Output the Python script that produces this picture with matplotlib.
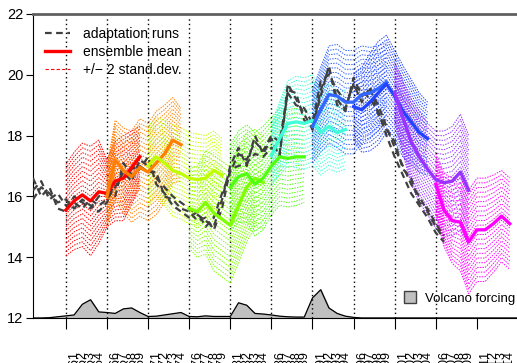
import numpy as np
import matplotlib
matplotlib.use("Agg")
import matplotlib.pyplot as plt
from matplotlib.lines import Line2D
from matplotlib.patches import Patch

plt.rcParams["font.family"] = ["Liberation Sans", "DejaVu Sans"]

# adaptation runs, yearly 1956-2006
run_years = np.arange(1956, 2007)
run1 = [16.2, 16.5, 15.9, 16.1, 15.7, 15.8, 15.6, 15.9, 15.7, 15.9,
        16.3, 16.8, 16.5, 17.2, 17.0, 16.6, 16.3, 16.0, 15.8, 15.6,
        15.4, 15.2, 15.0, 15.9, 17.0, 17.6, 17.0, 18.0, 17.4, 17.9,
        17.3, 19.7, 19.2, 18.7, 18.2, 19.5, 20.2, 19.2, 18.8, 19.9,
        19.3, 19.5, 19.0, 18.3, 17.6, 17.0, 16.4, 16.0, 15.5, 15.0, 14.6]
run2 = [16.6, 16.0, 16.3, 15.6, 15.5, 16.0, 15.8, 15.6, 16.0, 16.1,
        16.0, 17.1, 16.7, 16.9, 17.3, 16.4, 16.1, 15.7, 15.5, 15.3,
        15.5, 15.0, 15.3, 16.1, 16.8, 17.4, 17.2, 17.8, 17.5, 18.0,
        17.8, 19.4, 19.0, 18.9, 18.4, 19.8, 20.0, 19.5, 19.1, 19.6,
        19.5, 19.2, 18.8, 18.0, 17.3, 16.7, 16.1, 15.7, 15.3, 14.8, 14.5]
run3 = [15.9, 16.3, 16.1, 15.8, 15.9, 15.6, 15.9, 15.7, 15.5, 15.8,
        16.5, 16.6, 16.9, 17.0, 16.8, 16.8, 16.0, 15.9, 15.6, 15.5,
        15.2, 15.3, 14.9, 15.6, 16.9, 17.0, 17.1, 17.4, 17.3, 17.6,
        17.4, 19.5, 19.4, 18.5, 18.3, 19.3, 20.3, 19.0, 18.9, 19.7,
        19.1, 19.6, 18.7, 18.2, 17.8, 16.9, 16.6, 15.8, 15.6, 15.1, 14.7]

# ensemble periods: start year, 10 yearly means, 2-sd half widths
period_starts = [1960, 1965, 1970, 1975, 1980, 1985, 1990, 1995, 2000, 2005]
period_colors = ["#ff0000", "#ff8000", "#c0ff00", "#80ff00", "#50ff10",
                 "#40ffd8", "#3366ff", "#2244ff", "#9933ff", "#ff00ff"]
period_means = [
    [15.55, 15.85, 16.05, 15.85, 16.15, 16.1, 16.5, 16.6, 16.95, 17.3],
    [16.0, 17.2, 16.85, 16.65, 16.95, 16.8, 17.1, 17.4, 17.85, 17.7],
    [17.0, 17.3, 17.1, 16.85, 16.75, 16.6, 16.55, 16.6, 16.85, 16.7],
    [15.6, 15.5, 15.8, 15.45, 15.25, 15.05, 15.7, 16.3, 16.6, 16.45],
    [16.3, 16.65, 16.75, 16.4, 16.6, 17.0, 17.3, 17.25, 17.3, 17.3],
    [17.35, 17.9, 18.4, 18.45, 18.4, 18.5, 18.1, 18.3, 18.1, 18.2],
    [18.3, 18.85, 19.35, 19.3, 19.1, 19.1, 19.35, 19.4, 19.55, 19.75],
    [18.95, 18.85, 19.1, 19.4, 19.7, 19.3, 18.8, 18.45, 18.1, 17.9],
    [19.4, 18.6, 17.8, 17.3, 16.9, 16.55, 16.45, 16.5, 16.8, 16.2],
    [16.4, 15.55, 15.2, 15.15, 14.5, 14.9, 14.9, 15.1, 15.35, 15.1],
]
period_hw = [
    [1.5, 1.6, 1.7, 1.8, 1.7, 1.1, 1.3, 1.4, 1.2, 1.0],
    [1.0, 1.3, 1.4, 1.5, 1.6, 1.6, 1.7, 1.6, 1.4, 1.2],
    [1.3, 1.3, 1.4, 1.5, 1.5, 1.5, 1.5, 1.4, 1.3, 1.2],
    [1.3, 1.5, 1.7, 1.9, 1.9, 1.9, 1.9, 1.8, 1.6, 1.5],
    [1.4, 1.5, 1.6, 1.7, 1.7, 1.6, 1.6, 1.6, 1.6, 1.5],
    [1.0, 1.2, 1.4, 1.5, 1.5, 1.5, 1.4, 1.4, 1.3, 1.3],
    [1.2, 1.4, 1.6, 1.7, 1.7, 1.7, 1.6, 1.5, 1.4, 1.3],
    [1.1, 1.4, 1.6, 1.7, 1.6, 1.5, 1.5, 1.4, 1.3, 1.2],
    [1.0, 1.2, 1.4, 1.5, 1.5, 1.6, 1.7, 1.8, 1.9, 1.8],
    [1.0, 1.2, 1.4, 1.6, 1.7, 1.7, 1.7, 1.6, 1.5, 1.5],
]

# volcanic forcing (height above axis base), yearly 1956-2016
volc_years = np.arange(1956, 2017)
volc = [0.0, 0.0, 0.01, 0.04, 0.07, 0.1, 0.45, 0.6, 0.2, 0.18,
        0.15, 0.3, 0.33, 0.18, 0.05, 0.06, 0.1, 0.14, 0.18, 0.05,
        0.04, 0.07, 0.05, 0.05, 0.05, 0.5, 0.42, 0.15, 0.13, 0.1,
        0.06, 0.04, 0.03, 0.03, 0.66, 0.93, 0.33, 0.15, 0.06, 0.02,
        0.0, 0.0, 0.0, 0.0, 0.0, 0.0, 0.0, 0.0, 0.0, 0.0,
        0.0, 0.0, 0.0, 0.0, 0.0, 0.0, 0.0, 0.0, 0.0, 0.0, 0.0]

dotted_years = np.arange(1960, 2010, 5)
major_ticks = np.arange(1960, 2020, 5)
label_years = np.arange(1960, 2015)

fig = plt.figure(figsize=(5.17, 3.63), dpi=100)
ax = fig.add_axes([0.0638, 0.124, 0.954, 0.8375])
ax.set_xlim(1956, 2016)
ax.set_ylim(12, 22)

# volcano forcing
ax.fill_between(volc_years, 12, 12 + np.array(volc), color="#c0c0c0", zorder=1)
ax.plot(volc_years, 12 + np.array(volc), color="black", lw=0.9, zorder=2)

ax.vlines(dotted_years, 12, 21.87, colors="black", linestyles=(0, (1, 2.2)),
          lw=1.0, zorder=1.5)

# +/- 2 sd bands drawn as stacks of dotted lines
for start, col, m, hw in zip(period_starts, period_colors, period_means, period_hw):
    yrs = start + np.arange(len(m))
    m = np.array(m)
    hw = np.array(hw)
    for k in np.linspace(-1, 1, 23):
        ax.plot(yrs, m + k * hw, color=col, lw=0.7, ls=(0, (1.5, 1.2)), zorder=3)

for run in (run1, run2, run3):
    ax.plot(run_years, run, color="#404040", lw=1.6, ls=(0, (3, 2)), zorder=4)

for start, col, m in zip(period_starts, period_colors, period_means):
    yrs = start + np.arange(len(m))
    ax.plot(yrs, m, color=col, lw=2.4, zorder=5)

ax.spines["right"].set_visible(False)
ax.spines["top"].set_color("#606060")
ax.spines["top"].set_linewidth(2)
ax.set_yticks([12, 14, 16, 18, 20, 22])
ax.tick_params(axis="y", labelsize=10.5, length=5, direction="out", pad=2)
ax.set_xticks(major_ticks)
ax.set_xticklabels([])
ax.tick_params(axis="x", which="major", length=8, direction="out")
ax.set_xticks(label_years, minor=True)
ax.set_xticklabels([str(y) for y in label_years], minor=True, rotation=90,
                   fontsize=9)
ax.tick_params(axis="x", which="minor", length=0, pad=24)

h1 = [Line2D([], [], color="#404040", lw=1.6, ls=(0, (3, 2))),
      Line2D([], [], color="red", lw=2.4),
      Line2D([], [], color="red", lw=0.8, ls=(0, (3, 2)))]
leg = ax.legend(h1, ["adaptation runs", "ensemble mean", "+/\u2212 2 stand.dev."],
                loc="upper left", bbox_to_anchor=(0.005, 0.99), frameon=False,
                fontsize=10, handlelength=1.8, handletextpad=0.9,
                labelspacing=0.3, borderaxespad=0.3)
ax.add_artist(leg)
ax.legend([Patch(facecolor="#c0c0c0", edgecolor="#404040")], ["Volcano forcing"],
          loc="center left", bbox_to_anchor=(0.728, 0.066), frameon=False,
          fontsize=9.5, handlelength=0.9, handleheight=1.0, handletextpad=0.7)

fig.savefig("out.png", dpi=100)
